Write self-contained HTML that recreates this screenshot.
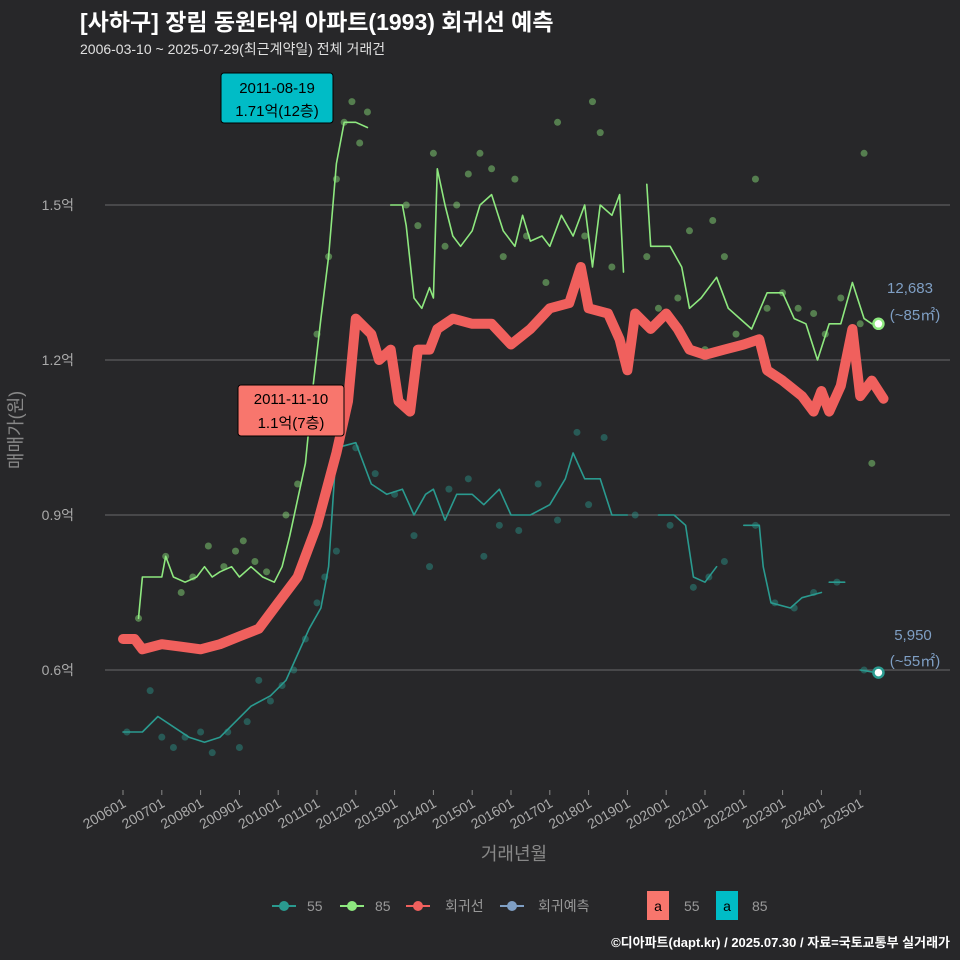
<!DOCTYPE html>
<html><head><meta charset="utf-8"><style>
body{margin:0;background:#272729;}
svg{display:block;font-family:"Liberation Sans","Noto Sans CJK KR",sans-serif;}
</style></head><body>
<svg id="c" width="960" height="960" viewBox="0 0 960 960">
<rect width="960" height="960" fill="#272729"/>
<text x="80" y="30" font-size="23" font-weight="bold" fill="#ffffff">[사하구] 장림 동원타워 아파트(1993) 회귀선 예측</text>
<text x="80" y="54" font-size="14" fill="#e0e0e0">2006-03-10 ~ 2025-07-29(최근계약일) 전체 거래건</text>
<g id="grid"></g><g id="pts"></g><g id="lines"></g><g id="xt"></g>
<text transform="translate(22,430) rotate(-90)" text-anchor="middle" font-size="18" fill="#888">매매가(원)</text>
<text x="514" y="860" text-anchor="middle" font-size="18" fill="#888">거래년월</text>
<g>
<rect x="221" y="73" width="112" height="50" rx="3" fill="#00bcc6" stroke="#000" stroke-width="1"/>
<text x="277" y="93" text-anchor="middle" font-size="15" fill="#000">2011-08-19</text>
<text x="277" y="116" text-anchor="middle" font-size="15" fill="#000">1.71억(12층)</text></g>
<g>
<rect x="238" y="385" width="106" height="51" rx="3" fill="#f8766d" stroke="#000" stroke-width="1"/>
<text x="291" y="404" text-anchor="middle" font-size="15" fill="#000">2011-11-10</text>
<text x="291" y="428" text-anchor="middle" font-size="15" fill="#000">1.1억(7층)</text></g>
<text x="910" y="293" text-anchor="middle" font-size="15" fill="#7f9fc4">12,683</text>
<text x="915" y="320" text-anchor="middle" font-size="15" fill="#7f9fc4">(~85㎡)</text>
<text x="913" y="640" text-anchor="middle" font-size="15" fill="#7f9fc4">5,950</text>
<text x="915" y="666" text-anchor="middle" font-size="15" fill="#7f9fc4">(~55㎡)</text>
<g font-size="14" fill="#999">
<g><line x1="272" y1="906" x2="296" y2="906" stroke="#2a9a8f" stroke-width="2"/><circle cx="284" cy="906" r="5" fill="#2a9a8f"/><text x="307" y="911">55</text></g>
<g><line x1="340" y1="906" x2="364" y2="906" stroke="#8ee87f" stroke-width="2"/><circle cx="352" cy="906" r="5" fill="#8ee87f"/><text x="375" y="911">85</text></g>
<g><line x1="406" y1="906" x2="430" y2="906" stroke="#f0605d" stroke-width="2"/><circle cx="418" cy="906" r="5" fill="#f0605d"/><text x="445" y="911">회귀선</text></g>
<g><line x1="500" y1="906" x2="524" y2="906" stroke="#7f9fc4" stroke-width="2"/><circle cx="512" cy="906" r="5" fill="#7f9fc4"/><text x="538" y="911">회귀예측</text></g>
<g><rect x="647" y="891" width="22" height="29" fill="#f8766d"/><text x="658" y="911" text-anchor="middle" fill="#000">a</text><text x="684" y="911">55</text></g>
<g><rect x="716" y="891" width="22" height="29" fill="#00bcc6"/><text x="727" y="911" text-anchor="middle" fill="#000">a</text><text x="752" y="911">85</text></g>
</g>
<text x="950" y="947" text-anchor="end" font-size="13" font-weight="bold" fill="#fff">©디아파트(dapt.kr) / 2025.07.30 / 자료=국토교통부 실거래가</text>
</svg>
<script>
const yTicks=[0.6,0.9,1.2,1.5];
const yTickLabels=["0.6억","0.9억","1.2억","1.5억"];
const xTickYears=[2006,2007,2008,2009,2010,2011,2012,2013,2014,2015,2016,2017,2018,2019,2020,2021,2022,2023,2024,2025];
const xTickLabels=["200601","200701","200801","200901","201001","201101","201201","201301","201401","201501","201601","201701","201801","201901","202001","202101","202201","202301","202401","202501"];
const t85=[2006.4,2006.5,2007.0,2007.1,2007.3,2007.6,2007.9,2008.1,2008.3,2008.5,2008.8,2009.0,2009.3,2009.6,2009.9,2010.1,2010.3,2010.5,2010.7,2010.9,2011.1,2011.3,2011.5,2011.7,2012.0,2012.3,null,2012.9,2013.2,2013.3,2013.5,2013.7,2013.9,2014.0,2014.1,2014.3,2014.5,2014.7,2015.0,2015.2,2015.5,2015.8,2016.1,2016.3,2016.5,2016.8,2017.0,2017.3,2017.6,2017.9,2018.1,2018.3,2018.6,2018.8,2018.9,null,2019.5,2019.6,2020.1,2020.4,2020.6,2020.9,2021.3,2021.6,2021.9,2022.2,2022.6,2023.0,2023.3,2023.6,2023.9,2024.2,2024.5,2024.8,2025.1,2025.3];
const v85=[0.70,0.78,0.78,0.82,0.78,0.77,0.78,0.80,0.78,0.79,0.80,0.78,0.80,0.78,0.77,0.80,0.86,0.93,1.00,1.15,1.28,1.40,1.58,1.66,1.66,1.65,null,1.50,1.50,1.46,1.32,1.30,1.34,1.32,1.57,1.50,1.44,1.42,1.45,1.50,1.52,1.45,1.42,1.48,1.43,1.44,1.42,1.48,1.44,1.50,1.38,1.50,1.48,1.52,1.37,null,1.54,1.42,1.42,1.38,1.30,1.32,1.36,1.30,1.28,1.26,1.33,1.33,1.28,1.27,1.20,1.27,1.27,1.35,1.28,1.27];
const t55=[2006.0,2006.5,2006.9,2007.3,2007.7,2008.1,2008.5,2008.9,2009.3,2009.8,2010.2,2010.5,2010.8,2011.1,2011.3,2011.5,2012.0,2012.4,2012.8,2013.2,2013.5,2013.8,2014.0,2014.3,2014.6,2015.0,2015.3,2015.7,2016.0,2016.5,2017.0,2017.4,2017.6,2017.9,2018.3,2018.6,2019.0,null,2019.8,2020.2,2020.5,2020.7,2021.0,2021.3,null,2022.0,2022.4,2022.5,2022.7,2023.2,2023.5,2024.0,null,2024.2,2024.6,null,2025.0,2025.4];
const v55=[0.48,0.48,0.51,0.49,0.47,0.46,0.47,0.50,0.53,0.55,0.58,0.63,0.68,0.72,0.80,1.03,1.04,0.96,0.94,0.95,0.90,0.94,0.95,0.89,0.94,0.94,0.92,0.95,0.90,0.90,0.92,0.97,1.02,0.97,0.97,0.90,0.90,null,0.90,0.90,0.88,0.78,0.77,0.80,null,0.88,0.88,0.80,0.73,0.72,0.74,0.75,null,0.77,0.77,null,0.60,0.595];
const tReg=[2006.0,2006.3,2006.5,2007.0,2007.5,2008.0,2008.5,2009.0,2009.5,2010.0,2010.5,2011.0,2011.5,2011.8,2012.0,2012.4,2012.6,2012.9,2013.1,2013.4,2013.6,2013.9,2014.1,2014.5,2015.0,2015.5,2016.0,2016.5,2017.0,2017.5,2017.8,2018.0,2018.5,2018.8,2019.0,2019.2,2019.6,2020.0,2020.3,2020.6,2021.0,2021.5,2022.0,2022.4,2022.6,2023.0,2023.5,2023.8,2024.0,2024.2,2024.5,2024.8,2025.0,2025.3,2025.6];
const vReg=[0.66,0.66,0.64,0.65,0.645,0.64,0.65,0.665,0.68,0.73,0.78,0.88,1.02,1.12,1.28,1.25,1.20,1.22,1.12,1.10,1.22,1.22,1.26,1.28,1.27,1.27,1.23,1.26,1.30,1.31,1.38,1.30,1.29,1.24,1.18,1.29,1.26,1.29,1.26,1.22,1.21,1.22,1.23,1.24,1.18,1.16,1.13,1.10,1.14,1.10,1.15,1.26,1.13,1.16,1.125];
const p85t=[2006.4,2007.1,2007.5,2007.8,2008.2,2008.6,2008.9,2009.1,2009.4,2009.7,2010.2,2010.5,2010.8,2011.0,2011.3,2011.5,2011.7,2011.9,2012.1,2012.3,2013.3,2013.6,2014.0,2014.3,2014.6,2014.9,2015.2,2015.5,2015.8,2016.1,2016.4,2016.9,2017.2,2017.6,2017.9,2018.1,2018.3,2018.6,2019.5,2019.8,2020.3,2020.6,2021.0,2021.2,2021.5,2021.8,2022.3,2022.6,2023.0,2023.4,2023.8,2024.1,2024.5,2025.0,2025.1,2025.3];
const p85v=[0.70,0.82,0.75,0.78,0.84,0.80,0.83,0.85,0.81,0.79,0.90,0.96,1.12,1.25,1.40,1.55,1.66,1.70,1.62,1.68,1.50,1.46,1.60,1.42,1.50,1.56,1.60,1.57,1.40,1.55,1.44,1.35,1.66,1.33,1.44,1.70,1.64,1.38,1.40,1.30,1.32,1.45,1.22,1.47,1.40,1.25,1.55,1.30,1.33,1.30,1.29,1.25,1.32,1.27,1.60,1.00];
const p55t=[2006.1,2006.7,2007.0,2007.3,2007.6,2008.0,2008.3,2008.7,2009.0,2009.2,2009.5,2009.8,2010.1,2010.4,2010.7,2011.0,2011.2,2011.5,2012.0,2012.5,2013.0,2013.5,2013.9,2014.4,2014.9,2015.3,2015.7,2016.2,2016.7,2017.2,2017.7,2018.0,2018.4,2019.2,2020.1,2020.7,2021.1,2021.5,2022.3,2022.8,2023.3,2023.8,2024.4,2025.1];
const p55v=[0.48,0.56,0.47,0.45,0.47,0.48,0.44,0.48,0.45,0.50,0.58,0.54,0.57,0.60,0.66,0.73,0.78,0.83,1.03,0.98,0.94,0.86,0.80,0.95,0.97,0.82,0.88,0.87,0.96,0.89,1.06,0.92,1.05,0.90,0.88,0.76,0.78,0.81,0.88,0.73,0.72,0.75,0.77,0.60];
const NS='http://www.w3.org/2000/svg';
function X(t){return 123+(t-2006)*38.8;}
function Y(v){return 670-(v-0.6)*516.7;}
function mk(tag,attrs,parent){const e=document.createElementNS(NS,tag);for(const k in attrs)e.setAttribute(k,attrs[k]);document.getElementById(parent).appendChild(e);return e;}
yTicks.forEach((v,i)=>{
 const l=mk('line',{x1:105,x2:950,y1:Y(v),y2:Y(v),stroke:'#6a6a6a','stroke-width':1},'grid');
 
 
 const t=mk('text',{x:74,y:Y(v)+5,'text-anchor':'end','font-size':14,fill:'#aaa'},'grid');t.textContent=yTickLabels[i];
 
 
});
xTickYears.forEach((yr,i)=>{
 const x=X(yr);
 mk('line',{x1:x,x2:x,y1:790,y2:795,stroke:'#888'},'xt');
 const t=mk('text',{x:x+4,y:806,'text-anchor':'end','font-size':14,fill:'#aaa',transform:`rotate(-30 ${x+4} 806)`},'xt');t.textContent=xTickLabels[i];
 
 
});
function pts(ts,vs,col,name){ts.forEach((t,i)=>{const c=mk('circle',{cx:X(t),cy:Y(vs[i]),r:3.5,fill:col,'fill-opacity':0.45},'pts');
 
 });}
pts(p85t,p85v,'#8ee87f','point-85');pts(p55t,p55v,'#2a9a8f','point-55');
function path(ts,vs){let d='',pen=false;ts.forEach((t,i)=>{if(t===null){pen=false;return;}d+=(pen?'L':'M')+X(t).toFixed(1)+' '+Y(vs[i]).toFixed(1);pen=true;});return d;}
function line(ts,vs,col,w,name){const p=mk('path',{d:path(ts,vs),fill:'none',stroke:col,'stroke-width':w,'stroke-linejoin':'round','stroke-linecap':'round'},'lines');
 
 }
line(t55,v55,'#2a9a8f',1.6,'line-55');
line(t85,v85,'#8ee87f',1.6,'line-85');
line(tReg,vReg,'#f0605d',10,'regression-line');
[[1.27,'#8ee87f','forecast-point-85'],[0.595,'#2a9a8f','forecast-point-55']].forEach(a=>{const c=mk('circle',{cx:X(2025.47),cy:Y(a[0]),r:5,fill:'#fff',stroke:a[1],'stroke-width':2.5},'lines');
 
 });
</script>
</body></html>
